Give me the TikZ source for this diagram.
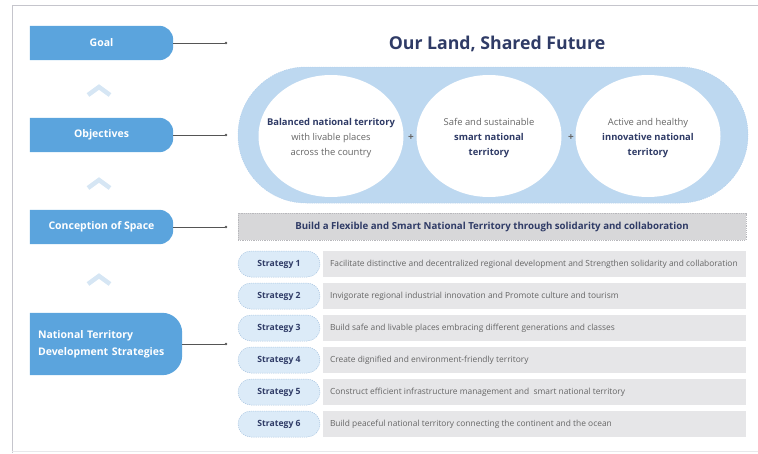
\documentclass[tikz,border=0pt]{standalone}
\usepackage{fontspec}
\setmainfont{Open Sans}
\usetikzlibrary{shapes.geometric,shapes.misc}
\definecolor{boxblue}{HTML}{5BA4DD}
\definecolor{chev}{HTML}{D6E6F4}
\definecolor{stad}{HTML}{BDD8F0}
\definecolor{stadline}{HTML}{B3D0EC}
\definecolor{navy}{HTML}{2F3B66}
\definecolor{concfill}{HTML}{D7D7D9}
\definecolor{concline}{HTML}{B8B8BC}
\definecolor{pillfill}{HTML}{DCEBF8}
\definecolor{pillline}{HTML}{A8C4E0}
\definecolor{barfill}{HTML}{E6E6E8}
\definecolor{bartext}{HTML}{666666}
\definecolor{frame}{HTML}{C5C5CC}
\definecolor{conn}{HTML}{555555}
\pgfdeclarelayer{background}
\pgfsetlayers{background,main}
\tikzset{
  lbox/.style={rectangle, inner sep=0pt, text=white, font=\fontsize{10.5}{17}\selectfont\bfseries},
  conline/.style={draw=conn, line width=0.6pt},
  dotend/.style={circle, fill=conn, inner sep=0pt, minimum size=2.6pt},
  chevron/.style={draw=chev, line width=4.5pt, miter limit=10},
  ellnode/.style={ellipse, fill=white, inner sep=0pt, minimum width=145pt, minimum height=122pt},
  elltext/.style={align=center, inner sep=0pt, text=bartext, font=\fontsize{9.4}{15}\selectfont},
  plus/.style={text=bartext, font=\fontsize{10}{10}\selectfont\bfseries, inner sep=0pt},
  pill/.style={rounded rectangle, fill=pillfill, draw=pillline, dashed, dash pattern=on 1.2pt off 1pt, line width=0.5pt, minimum width=82pt, minimum height=26pt, inner sep=0pt, text=navy, font=\fontsize{8.6}{10}\selectfont\bfseries},
  bar/.style={rectangle, fill=barfill, minimum width=423pt, minimum height=26pt, inner sep=0pt},
  bartxt/.style={text=bartext, font=\fontsize{8.4}{10}\selectfont, inner sep=0pt, anchor=west},
}
\begin{document}
\begin{tikzpicture}[x=1pt,y=1pt]
\useasboundingbox (0,0) rectangle (758,-453);
% frame
\draw[frame, line width=1pt] (758,-5) -- (12,-5) -- (12,-453);
\draw[frame!40, line width=0.6pt] (12,-451) -- (758,-451);

% left boxes
\node[lbox, minimum width=143pt, minimum height=34pt] (goal) at (101.5,-43) {Goal};
\node[lbox, minimum width=143pt, minimum height=34pt] (obj) at (101.5,-135) {Objectives};
\node[lbox, minimum width=143pt, minimum height=34pt] (conc) at (101.5,-227) {Conception of Space};
\node[lbox, minimum width=152pt, minimum height=62pt, text width=136pt, align=left] (nat) at (106,-344) {National Territory\\Development Strategies};
\begin{pgfonlayer}{background}
\foreach \n/\r in {goal/14,obj/14,conc/14,nat/20}{
  \fill[boxblue] (\n.north west) -- ([xshift=-\r pt]\n.north east) arc[start angle=90,end angle=0,radius=\r pt]
     -- ([yshift=\r pt]\n.south east) arc[start angle=0,end angle=-90,radius=\r pt] -- (\n.south west) -- cycle;
}
\end{pgfonlayer}

% chevrons
\foreach \y in {-90,-183,-279}{
  \draw[chevron] (88,\y-5) -- (99,\y+3) -- (110,\y-5);
}

% connector dots
\node[dotend] (dg) at (226,-43) {};
\node[dotend] (do) at (226,-135) {};
\node[dotend] (dc) at (226,-227) {};
\node[dotend] (dn) at (226,-344) {};
\draw[conline] (goal.east) -- (dg);
\draw[conline] (obj.east) -- (do);
\draw[conline] (conc.east) -- (dc);
\draw[conline] (nat.east) -- (dn);

% title
\node[text=navy, font=\fontsize{17.7}{20}\selectfont\bfseries] (title) at (497,-44) {Our Land, Shared Future};

% objectives stadium
\node[rounded rectangle, fill=stad, draw=stadline, dashed, dash pattern=on 1.2pt off 1pt, line width=0.5pt, minimum width=510pt, minimum height=136pt, inner sep=0pt] (stadium) at (493,-135) {};
\node[ellnode] (e1) at (331,-136) {};
\node[ellnode] (e2) at (489,-136) {};
\node[ellnode] (e3) at (648,-136) {};
\node[elltext] (e1t) at ([yshift=-2.5pt]e1.center) {\textcolor{navy}{\bfseries Balanced national territory}\\with livable places\\across the country};
\node[elltext] (e2t) at ([yshift=-2.5pt]e2.center) {Safe and sustainable\\\textcolor{navy}{\bfseries smart national}\\\textcolor{navy}{\bfseries territory}};
\node[elltext] (e3t) at ([yshift=-2.5pt]e3.center) {Active and healthy\\\textcolor{navy}{\bfseries innovative national}\\\textcolor{navy}{\bfseries territory}};
\node[plus] (p1) at (411,-138) {+};
\node[plus] (p2) at (571,-138) {+};

% conception bar
\node[rectangle, fill=concfill, draw=concline, dashed, dash pattern=on 1.2pt off 1pt, line width=0.5pt, minimum width=508pt, minimum height=27pt, inner sep=0pt, text=navy, font=\fontsize{9.7}{11}\selectfont\bfseries] (cbar) at (492,-226.5) {Build a Flexible and Smart National Territory through solidarity and collaboration};

% strategies
\foreach \i/\y/\t in {
  1/-264/{Facilitate distinctive and decentralized regional development and Strengthen solidarity and collaboration},
  2/-296/{Invigorate regional industrial innovation and Promote culture and tourism},
  3/-328/{Build safe and livable places embracing different generations and classes},
  4/-360/{Create dignified and environment-friendly territory},
  5/-392/{Construct efficient infrastructure management and \ smart national territory},
  6/-424/{Build peaceful national territory connecting the continent and the ocean}}{
  \node[pill] (s\i) at (279,\y) {Strategy \i};
  \node[bar] (b\i) at (534.5,\y) {};
  \node[bartxt] (t\i) at ([xshift=7pt]b\i.west) {\t};
}
\end{tikzpicture}
\end{document}
